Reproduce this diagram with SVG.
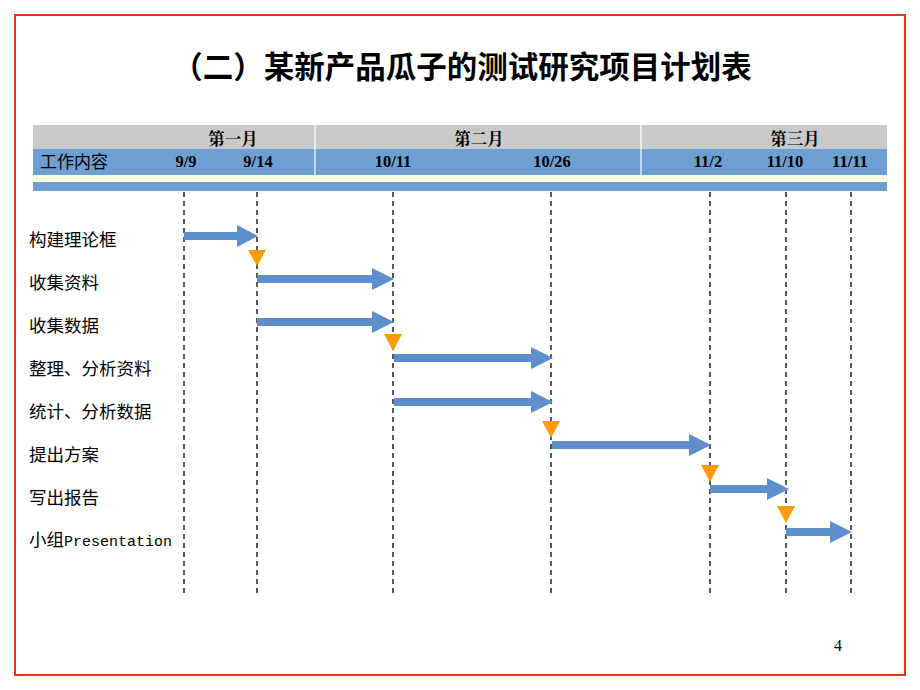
<svg xmlns="http://www.w3.org/2000/svg" width="920" height="690" viewBox="0 0 920 690">
<defs>
<style>
.lbl{font-family:"Liberation Sans","Noto Sans CJK SC",sans-serif;font-size:17.5px;fill:#000}
.hd{font-family:"Liberation Serif","Noto Serif CJK SC","Noto Sans CJK SC",serif;font-size:16.5px;font-weight:bold;fill:#000;text-anchor:middle}
.vl{stroke:#000;stroke-width:1.3;stroke-dasharray:5,4}
.arr{fill:#5e8fcd}
.tri{fill:#ff9a00}
</style>
</defs>
<rect x="0" y="0" width="920" height="690" fill="#fff"/>
<rect x="15" y="15" width="890" height="660" fill="none" stroke="#ee3311" stroke-width="2"/>
<text x="462" y="78" text-anchor="middle" font-family="'Noto Sans CJK SC',sans-serif" font-weight="600" font-size="30.5" fill="#000">（二）某新产品瓜子的测试研究项目计划表</text>
<g id="header">
<rect x="33" y="125" width="854" height="24" fill="#c9c9c9"/>
<rect x="33" y="149" width="854" height="26" fill="#6e9fd3"/>
<rect x="33" y="175" width="854" height="7" fill="#fffbe0"/>
<rect x="33" y="182" width="854" height="9" fill="#6e9fd3"/>
<line x1="315" y1="125" x2="315" y2="175" stroke="#fff" stroke-width="1.2"/>
<line x1="641" y1="125" x2="641" y2="175" stroke="#fff" stroke-width="1.2"/>
<text class="hd" x="233" y="145" font-family="'Noto Sans CJK SC',sans-serif" font-weight="500">第一月</text>
<text class="hd" x="479" y="145" font-family="'Noto Sans CJK SC',sans-serif" font-weight="500">第二月</text>
<text class="hd" x="795" y="145" font-family="'Noto Sans CJK SC',sans-serif" font-weight="500">第三月</text>
<text x="40" y="168" font-family="'Noto Sans CJK SC',sans-serif" font-size="17" fill="#000">工作内容</text>
<text class="hd" x="186" y="167">9/9</text>
<text class="hd" x="258" y="167">9/14</text>
<text class="hd" x="393" y="167">10/11</text>
<text class="hd" x="552" y="167">10/26</text>
<text class="hd" x="708" y="167">11/2</text>
<text class="hd" x="785" y="167">11/10</text>
<text class="hd" x="850" y="167">11/11</text>
</g>
<g id="gridlines">
<line class="vl" x1="184" y1="192" x2="184" y2="593"/>
<line class="vl" x1="257" y1="192" x2="257" y2="593"/>
<line class="vl" x1="393" y1="192" x2="393" y2="593"/>
<line class="vl" x1="551" y1="192" x2="551" y2="593"/>
<line class="vl" x1="710" y1="192" x2="710" y2="593"/>
<line class="vl" x1="786" y1="192" x2="786" y2="593" stroke="#555"/>
<line class="vl" x1="851" y1="192" x2="851" y2="593" stroke="#555"/>
</g>
<g id="labels">
<text class="lbl" x="29" y="246">构建理论框</text>
<text class="lbl" x="29" y="289">收集资料</text>
<text class="lbl" x="29" y="332">收集数据</text>
<text class="lbl" x="29" y="375">整理、分析资料</text>
<text class="lbl" x="29" y="418">统计、分析数据</text>
<text class="lbl" x="29" y="461">提出方案</text>
<text class="lbl" x="29" y="504">写出报告</text>
<text class="lbl" x="29" y="546">小组<tspan font-family="'Liberation Mono',monospace" font-size="15">Presentation</tspan></text>
</g>
<g id="connectors">
<polygon class="arr" points="184,232 237,232 237,225 258,236 237,247 237,240 184,240"/>
<polygon class="arr" points="257,275 372,275 372,268 394,279 372,290 372,283 257,283"/>
<polygon class="arr" points="257,318 372,318 372,311 394,322 372,333 372,326 257,326"/>
<polygon class="arr" points="394,354 531,354 531,347 553,358 531,369 531,362 394,362"/>
<polygon class="arr" points="394,398 531,398 531,391 553,402 531,413 531,406 394,406"/>
<polygon class="arr" points="552,441 689,441 689,434 711,445 689,456 689,449 552,449"/>
<polygon class="arr" points="710,485 767,485 767,478 789,489 767,500 767,493 710,493"/>
<polygon class="arr" points="786,528 830,528 830,521 852,532 830,543 830,536 786,536"/>
</g>
<g id="milestones">
<polygon class="tri" points="248,250 266,250 257,266"/>
<polygon class="tri" points="384,334 402,334 393,351"/>
<polygon class="tri" points="542,421 560,421 551,438"/>
<polygon class="tri" points="701,465 719,465 710,482"/>
<polygon class="tri" points="777,506 795,506 786,523"/>
</g>
<text x="838" y="651" text-anchor="middle" font-family="'Liberation Serif',serif" font-size="16" fill="#000">4</text>
</svg>
